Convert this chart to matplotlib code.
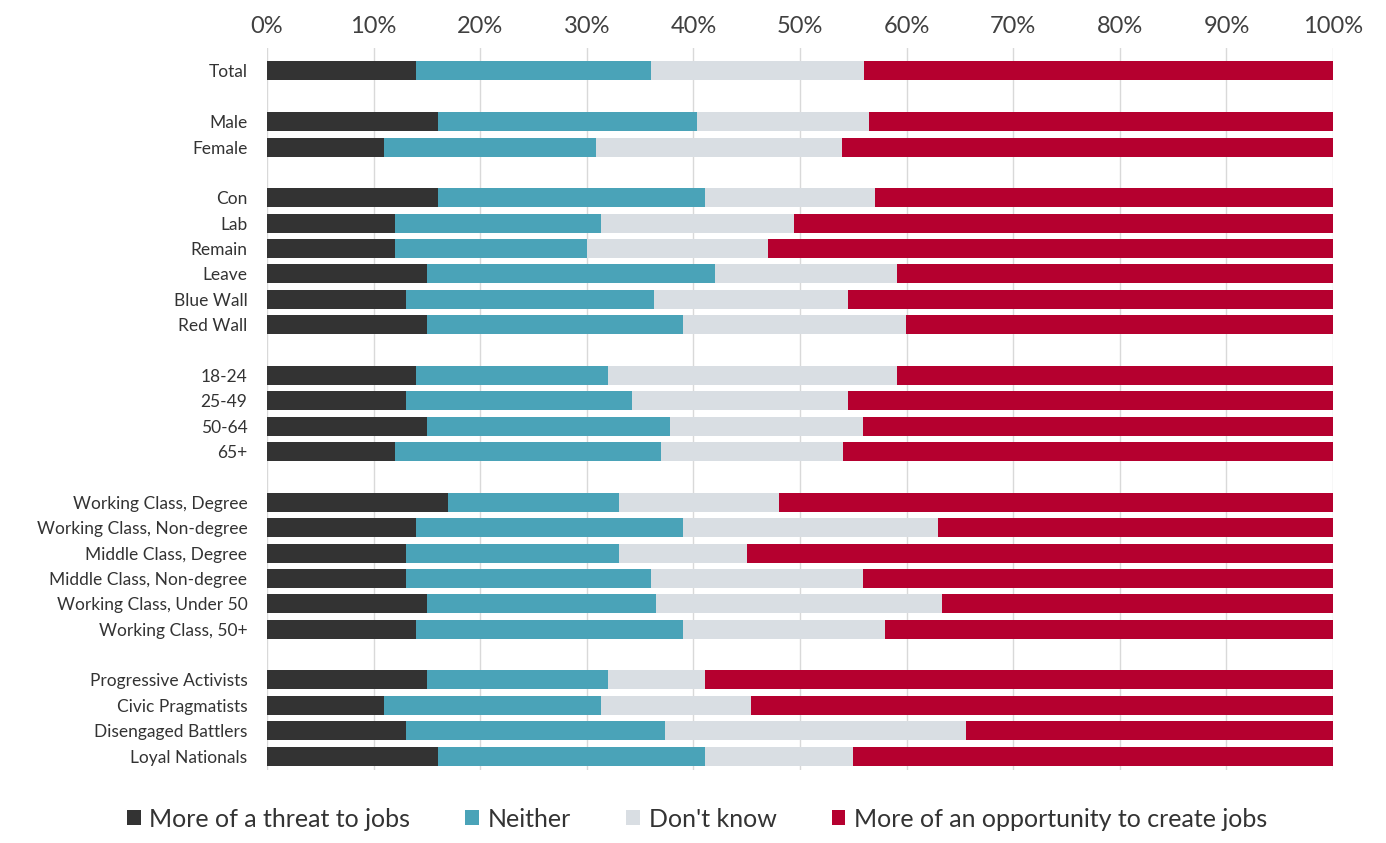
import matplotlib
matplotlib.use("Agg")
import matplotlib.pyplot as plt
import numpy as np

plt.rcParams['font.family'] = ['Lato', 'DejaVu Sans']

categories = ['Total', '', 'Male', 'Female', '',
              'Con', 'Lab', 'Remain', 'Leave', 'Blue Wall', 'Red Wall', '',
              '18-24', '25-49', '50-64', '65+', '',
              'Working Class, Degree', 'Working Class, Non-degree',
              'Middle Class, Degree', 'Middle Class, Non-degree',
              'Working Class, Under 50', 'Working Class, 50+', '',
              'Progressive Activists', 'Civic Pragmatists',
              'Disengaged Battlers', 'Loyal Nationals']

# None marks a spacer row
threat = [14, None, 16, 11, None, 16, 12, 12, 15, 13, 15, None,
          14, 13, 15, 12, None, 17, 14, 13, 13, 15, 14, None,
          15, 11, 13, 16]
neither = [22, None, 24.3, 19.9, None, 25.1, 19.3, 18, 27, 23.3, 24, None,
           18, 21.2, 22.8, 25, None, 16, 25, 20, 23, 21.5, 25, None,
           17, 20.3, 24.3, 25.1]
dont_know = [20, None, 16.2, 23, None, 15.9, 18.1, 17, 17.1, 18.2, 20.9, None,
             27.1, 20.3, 18.1, 17, None, 15, 23.9, 12, 19.9, 26.8, 19, None,
             9.1, 14.1, 28.3, 13.9]

labels = ['More of a threat to jobs', 'Neither', "Don't know",
          'More of an opportunity to create jobs']
colors = ['#333333', '#4aa3b8', '#d9dee3', '#b5002f']

fig = plt.figure(figsize=(13.86, 8.43), dpi=100)
ax = fig.add_axes([0.1926, 0.0866, 0.7692, 0.8564])

rows = [i for i, t in enumerate(threat) if t is not None]
y = np.array(rows)
t = np.array([threat[i] for i in rows])
n = np.array([neither[i] for i in rows])
d = np.array([dont_know[i] for i in rows])
o = 100 - t - n - d

h = 0.75
ax.barh(y, t, height=h, color=colors[0], label=labels[0], zorder=3)
ax.barh(y, n, left=t, height=h, color=colors[1], label=labels[1], zorder=3)
ax.barh(y, d, left=t + n, height=h, color=colors[2], label=labels[2], zorder=3)
ax.barh(y, o, left=t + n + d, height=h, color=colors[3], label=labels[3], zorder=3)

ax.set_xlim(0, 100)
ax.set_ylim(27.55, -0.9)
ax.set_yticks(y)
ax.set_yticklabels([categories[i] for i in rows], fontsize=12.5, color='#333333')
ax.set_xticks(np.arange(0, 101, 10))
ax.set_xticklabels([f'{v}%' for v in range(0, 101, 10)], fontsize=17, color='#404040')
ax.xaxis.tick_top()
ax.tick_params(axis='both', length=0)
ax.tick_params(axis='x', pad=8)
ax.tick_params(axis='y', pad=14)
for s in ax.spines.values():
    s.set_visible(False)
ax.grid(axis='x', color='#d9d9d9', linewidth=1, zorder=0)

fig.legend(loc='lower center', bbox_to_anchor=(0.503, -0.012), ncol=4, frameon=False,
           fontsize=18, handlelength=0.55, handleheight=0.55, handletextpad=0.35,
           columnspacing=2.2, labelcolor='#333333')

fig.savefig('out.png', dpi=100)
